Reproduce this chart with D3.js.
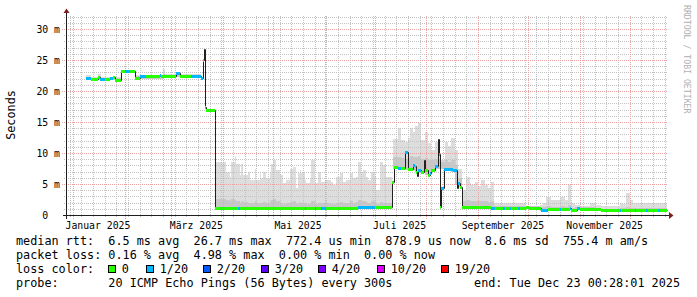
<!DOCTYPE html>
<html>
<head>
<meta charset="utf-8">
<script src="https://cdn.jsdelivr.net/npm/d3@7"></script>
<style>
  html, body { margin: 0; padding: 0; background: #fff; }
  svg { display: block; font-family: "DejaVu Sans Mono", monospace; }
  text { white-space: pre; }
</style>
</head>
<body>
<svg id="chart" width="697" height="297"></svg>
<script>
// ---- data (values in milliseconds) ----
var rangeStart = "2024-12-28T10", rangeEnd = "2025-12-23T10";
var medEnd = "2025-12-23T05";

var monthLabels = ["Januar 2025", "März 2025", "Mai 2025", "Juli 2025", "September 2025", "November 2025"];
var monthLabelDates = ["2025-01-01", "2025-03-01", "2025-05-01", "2025-07-01", "2025-09-01", "2025-11-01"];
var yTicks = [0, 5, 10, 15, 20, 25, 30];
var yTickLabels = ["0  ", "5 m", "10 m", "15 m", "20 m", "25 m", "30 m"];

var lossLabels = ["0", "1/20", "2/20", "3/20", "4/20", "10/20", "19/20"];
var lossColors = ["#26ff00", "#00b8ff", "#0059ff", "#5e00ff", "#7e00ff", "#dd00ff", "#ff0000"];

// median rtt steps; loss = index into lossColors, -1 = no colour band
var medDates = [
  "2025-01-09", "2025-01-12", "2025-01-16", "2025-01-17", "2025-01-20", "2025-01-23", "2025-01-25", "2025-01-26",
  "2025-01-30", "2025-02-01", "2025-02-04", "2025-02-07", "2025-02-10", "2025-02-14", "2025-02-22", "2025-02-23",
  "2025-03-04", "2025-03-06", "2025-03-13", "2025-03-19", "2025-03-20", "2025-03-20T18", "2025-03-21T06", "2025-03-22",
  "2025-03-27", "2025-03-27T12", "2025-04-10", "2025-04-11T06", "2025-05-20", "2025-05-21", "2025-05-26", "2025-05-27",
  "2025-05-30", "2025-06-02", "2025-06-21", "2025-07-01", "2025-07-11T05", "2025-07-12T12", "2025-07-15", "2025-07-17",
  "2025-07-19T12", "2025-07-20T18", "2025-07-24", "2025-07-25", "2025-07-26", "2025-07-26T12", "2025-07-27", "2025-07-28T18",
  "2025-07-30T18", "2025-07-31T12", "2025-08-02", "2025-08-03T10", "2025-08-04", "2025-08-06", "2025-08-07T18", "2025-08-08T12",
  "2025-08-09T10", "2025-08-10", "2025-08-11T10", "2025-08-17T05", "2025-08-19T05", "2025-08-19T19", "2025-08-21T05", "2025-08-22T05",
  "2025-09-08T19", "2025-09-11", "2025-09-16", "2025-09-17", "2025-09-20", "2025-09-21", "2025-09-25", "2025-09-26",
  "2025-09-30", "2025-10-01T18", "2025-10-09", "2025-10-13", "2025-10-20", "2025-10-21", "2025-10-26", "2025-10-27",
  "2025-10-30T12", "2025-11-01", "2025-11-14", "2025-11-25", "2025-11-26", "2025-12-04", "2025-12-05", "2025-12-11",
  "2025-12-12", "2025-12-18", "2025-12-19"
];
var medValues = [
  22.05, 22.0, 22.3, 21.95, 22.0, 22.05, 22.3, 21.85,
  23.2, 23.2, 23.2, 22.1, 22.45, 22.45, 22.55, 22.45,
  22.85, 22.45, 22.45, 22.1, 25.0, 26.7, 17.4, 16.9,
  15.3, 1.05, 1.05, 1.05, 1.05, 1.05, 1.1, 1.05,
  1.15, 1.05, 1.35, 1.25, 5.4, 7.7, 7.6, 7.6,
  10.2, 7.5, 8.0, 7.9, 7.0, 6.3, 7.3, 6.9,
  8.9, 7.3, 6.4, 6.7, 7.3, 7.9, 12.2, 9.9,
  1.3, 4.4, 7.5, 7.2, 4.3, 5.1, 4.5, 1.3,
  1.1, 1.1, 1.1, 1.1, 1.1, 1.1, 1.1, 1.1,
  1.34, 1.08, 0.8, 1.0, 1.0, 1.0, 1.1, 0.8,
  1.2, 1.0, 0.75, 0.75, 0.75, 0.75, 0.75, 0.75,
  0.75, 0.75, 0.75
];
var medLoss = [
  1, 0, 0, 1, 0, 1, 0, 0,
  0, 1, 0, 0, 1, 0, 1, 0,
  1, 0, 1, 1, 0, -1, 0, 0,
  -1, 0, 1, 0, 1, 0, 1, 0,
  1, 0, 1, 0, 0, 0, 1, 0,
  1, 0, 1, 0, 0, -1, 1, 0,
  -1, 0, 0, 1, 0, 1, -1, 1,
  0, 1, 1, 1, -1, 1, 0, 0,
  1, 0, 1, 0, 1, 0, 1, 0,
  0, 0, 1, 0, 1, 0, 1, 0,
  1, 0, 0, 1, 0, 1, 0, 1,
  0, 1, 0
];

// smoke (ping spread): outer top, darker inner band top, bottom; null = no data
var smokeDates = [
  "2025-01-09", "2025-01-12", "2025-01-16", "2025-01-18", "2025-01-30", "2025-02-07", "2025-02-24", "2025-02-25", "2025-03-19",
  "2025-03-27T12", "2025-04-03", "2025-04-05", "2025-04-06", "2025-04-08", "2025-04-09", "2025-04-11", "2025-04-12", "2025-04-13", "2025-04-16",
  "2025-04-17", "2025-04-20", "2025-04-21", "2025-04-23", "2025-04-24", "2025-04-25", "2025-04-27", "2025-04-29", "2025-04-30", "2025-05-01",
  "2025-05-03", "2025-05-05", "2025-05-07", "2025-05-09", "2025-05-11", "2025-05-13", "2025-05-15", "2025-05-16", "2025-05-17", "2025-05-18",
  "2025-05-20", "2025-05-21", "2025-05-23", "2025-05-24", "2025-05-26", "2025-05-28", "2025-05-30", "2025-06-01", "2025-06-03", "2025-06-05",
  "2025-06-06", "2025-06-08", "2025-06-10", "2025-06-12", "2025-06-14", "2025-06-16", "2025-06-18", "2025-06-20", "2025-06-21", "2025-06-23",
  "2025-06-24", "2025-06-26", "2025-06-27", "2025-06-29", "2025-07-01", "2025-07-02", "2025-07-04", "2025-07-06", "2025-07-08", "2025-07-11T05",
  "2025-07-12T05", "2025-07-15", "2025-07-17", "2025-07-19", "2025-07-21", "2025-07-22", "2025-07-24", "2025-07-25", "2025-07-27", "2025-07-29",
  "2025-07-31", "2025-08-02", "2025-08-04", "2025-08-06", "2025-08-08", "2025-08-10", "2025-08-12", "2025-08-14", "2025-08-16", "2025-08-18",
  "2025-08-20", "2025-08-22T05", "2025-08-25", "2025-08-27", "2025-08-28", "2025-08-30", "2025-09-01", "2025-09-03", "2025-09-05", "2025-09-07",
  "2025-09-09", "2025-09-10T12", "2025-09-30", "2025-10-08", "2025-10-10", "2025-10-12", "2025-10-15", "2025-10-20", "2025-10-23", "2025-10-25",
  "2025-10-27", "2025-10-29", "2025-11-01", "2025-11-07", "2025-11-11", "2025-11-14", "2025-11-25", "2025-11-27", "2025-11-29", "2025-12-01",
  "2025-12-03", "2025-12-09", "2025-12-13", "2025-12-17"
];
var smokeTop = [
  22.6, 22.3, 22.8, 22.3, 23.4, 22.6, 23.5, 22.7, null,
  8.6, 7.0, 6.2, 8.6, 9.5, 8.3, 6.5, 8.3, 6.5, 7.0,
  5.6, 7.5, 5.6, 6.7, 5.9, 7.0, 5.9, 6.7, 8.2, 8.9,
  7.3, 6.5, 5.2, 5.6, 7.5, 7.8, 4.3, 6.7, 7.2, 6.8,
  5.6, 5.1, 5.9, 8.9, 5.1, 7.0, 5.4, 5.6, 5.7, 5.4,
  4.8, 6.1, 6.8, 5.4, 5.6, 6.7, 5.9, 6.2, 8.6, 7.0,
  7.3, 6.2, 5.6, 7.0, 6.1, 4.0, 8.6, 8.1, 6.2, null,
  12.2, 14.0, 12.1, 11.8, 12.4, 14.0, 13.4, 14.3, 14.9, 12.1,
  13.4, 11.6, 10.5, 11.8, 10.0, 8.9, 11.8, 11.1, 12.4, 10.5,
  7.5, 4.0, 6.2, 5.1, 4.8, 5.4, 4.6, 5.7, 4.8, 4.3,
  5.4, 1.9, 1.45, 1.6, 1.9, 2.85, 2.4, 2.9, 2.4, 4.8,
  1.9, 1.6, 1.45, 1.9, 1.6, 1.45, 1.9, 1.8, 3.5, 2.4,
  2.0, 1.9, 2.0, 1.9
];
var smokeMid = [
  22.3, 22.15, 22.4, 22.15, 23.3, 22.4, 22.7, 22.55, null,
  2.6, 2.4, 2.3, 2.6, 2.5, 2.2, 2.0, 2.3, 2.1, 2.0,
  1.9, 2.2, 1.9, 2.0, 1.9, 2.1, 2.0, 2.2, 2.4, 2.6,
  2.3, 2.0, 1.8, 1.9, 2.1, 2.2, 1.8, 2.0, 2.1, 2.0,
  1.9, 1.8, 1.9, 2.2, 1.8, 2.0, 1.9, 1.9, 1.9, 1.8,
  1.8, 2.0, 2.1, 1.9, 1.9, 2.2, 2.0, 2.1, 2.5, 2.2,
  2.3, 2.1, 2.0, 2.2, 2.0, 1.8, 2.1, 2.0, 1.9, null,
  9.3, 9.4, 9.2, 9.0, 9.2, 9.5, 9.4, 9.4, 9.5, 9.0,
  9.2, 8.8, 8.8, 9.0, 9.0, 8.5, 8.8, 8.6, 8.8, 8.0,
  6.0, 2.2, 2.4, 2.3, 2.2, 2.3, 2.2, 2.3, 2.2, 2.1,
  2.2, 1.4, 1.4, 1.3, 1.3, 1.4, 1.3, 1.4, 1.3, 1.6,
  1.2, 1.3, 1.25, 1.25, 1.2, 1.0, 1.1, 1.1, 1.3, 1.2,
  1.1, 1.1, 1.1, 1.1
];
var smokeBot = [
  21.9, 21.85, 21.85, 21.8, 23.05, 22.0, 22.3, 22.3, null,
  1.0, 1.0, 1.0, 1.0, 1.0, 1.0, 1.0, 1.0, 1.0, 1.0,
  1.0, 1.0, 1.0, 1.0, 1.0, 1.0, 1.0, 1.0, 1.0, 1.0,
  1.0, 1.0, 1.0, 1.0, 1.0, 1.0, 1.0, 1.0, 1.0, 1.0,
  1.0, 1.0, 1.0, 1.0, 1.0, 1.0, 1.0, 1.0, 1.0, 1.0,
  1.0, 1.0, 1.0, 1.0, 1.0, 1.0, 1.0, 1.0, 1.3, 1.3,
  1.3, 1.3, 1.3, 1.3, 1.2, 1.2, 1.2, 1.2, 1.2, null,
  7.4, 7.4, 7.4, 7.3, 7.3, 7.3, 7.2, 6.9, 6.8, 6.8,
  6.4, 6.3, 7.1, 7.5, 7.5, 7.4, 7.3, 7.2, 7.0, 5.0,
  4.5, 1.2, 1.2, 1.2, 1.2, 1.2, 1.2, 1.2, 1.2, 1.2,
  1.0, 0.9, 1.0, 0.7, 0.7, 0.8, 0.8, 0.8, 0.8, 0.8,
  0.7, 0.8, 0.8, 0.8, 0.8, 0.6, 0.6, 0.6, 0.6, 0.6,
  0.6, 0.6, 0.6, 0.6
];

var legendRtt = "median rtt:  6.5 ms avg  26.7 ms max  772.4 us min  878.9 us now  8.6 ms sd  755.4 m am/s";
var legendLoss = "packet loss: 0.16 % avg  4.98 % max  0.00 % min  0.00 % now";
var legendProbe = "probe:       20 ICMP Echo Pings (56 Bytes) every 300s";
var legendEnd = "end: Tue Dec 23 00:28:01 2025";

// ---- drawing ----
function t(s) { return new Date(s.length === 10 ? s + "T00:00:00Z" : s + ":00:00Z"); }

var svg = d3.select("#chart");
var x = d3.scaleUtc().domain([t(rangeStart), t(rangeEnd)]).range([67, 667]);
var y = d3.scaleLinear().domain([0, 200 / 6.2]).range([215, 15]);
var px = function (d) { return Math.round(x(d)); };
var py = function (v) { return Math.round(y(v)); };

// dotted grid patterns, one pixel on / one off
var defs = svg.append("defs");
function dotPattern(id, w, h, color) {
  defs.append("pattern").attr("id", id).attr("patternUnits", "userSpaceOnUse")
      .attr("width", w).attr("height", h)
    .append("rect").attr("width", 1).attr("height", 1).attr("fill", color);
}
dotPattern("hMin", 2, 1, "#c2c2c2");
dotPattern("vMin", 1, 2, "#c2c2c2");
dotPattern("hMaj", 2, 1, "#eca2a2");
dotPattern("vMaj", 1, 2, "#eca2a2");

// smoke
var smoke = smokeDates.map(function (d, i) {
  return {
    x0: t(d), x1: t(i + 1 < smokeDates.length ? smokeDates[i + 1] : medEnd),
    top: smokeTop[i], mid: smokeMid[i], bot: smokeBot[i]
  };
}).filter(function (d) { return d.top != null; });

var gSmoke = svg.append("g").attr("shape-rendering", "crispEdges");
gSmoke.selectAll("rect.outer").data(smoke).join("rect")
    .attr("class", "outer")
    .attr("x", function (d) { return px(d.x0); })
    .attr("width", function (d) { return px(d.x1) - px(d.x0); })
    .attr("y", function (d) { return py(d.top); })
    .attr("height", function (d) { return py(d.bot) - py(d.top); })
    .attr("fill", "#dddddd");
gSmoke.selectAll("rect.inner").data(smoke).join("rect")
    .attr("class", "inner")
    .attr("x", function (d) { return px(d.x0); })
    .attr("width", function (d) { return px(d.x1) - px(d.x0); })
    .attr("y", function (d) { return py(d.mid); })
    .attr("height", function (d) { return Math.max(0, py(d.bot) - py(d.mid)); })
    .attr("fill", "#c8c8c8");

// grid
var gGrid = svg.append("g").attr("shape-rendering", "crispEdges");
var minorY = d3.range(1, 33).filter(function (v) { return v % 5 !== 0; });
var majorY = yTicks.filter(function (v) { return v > 0; });
var months = d3.utcMonth.range(x.domain()[0], x.domain()[1]);
var weeks = d3.utcMonday.range(x.domain()[0], x.domain()[1]).filter(function (w) {
  return !months.some(function (m) { return Math.abs(px(m) - px(w)) < 1; });
});
gGrid.selectAll("rect.hmin").data(minorY).join("rect")
    .attr("x", 64).attr("width", 604)
    .attr("y", py).attr("height", 1)
    .attr("fill", "url(#hMin)");
gGrid.selectAll("rect.vmin").data(weeks).join("rect")
    .attr("x", px).attr("width", 1)
    .attr("y", 15).attr("height", 202)
    .attr("fill", "url(#vMin)");
gGrid.selectAll("rect.hmaj").data(majorY).join("rect")
    .attr("x", 62).attr("width", 606)
    .attr("y", py).attr("height", 1)
    .attr("fill", "url(#hMaj)");
gGrid.selectAll("rect.vmaj").data(months).join("rect")
    .attr("x", px).attr("width", 1)
    .attr("y", 15).attr("height", 204)
    .attr("fill", "url(#vMaj)");

// median line (dark) with loss coloured bands
var medPts = medDates.map(function (d, i) { return [t(d), medValues[i]]; });
medPts.push([t(medEnd), medValues[medValues.length - 1]]);
svg.append("path")
    .attr("d", d3.line()
        .x(function (d) { return px(d[0]) + 0.5; })
        .y(function (d) { return py(d[1]) + 0.5; })
        .curve(d3.curveStepAfter)(medPts))
    .attr("fill", "none").attr("stroke", "#202020").attr("stroke-width", 1);

var bands = medDates.map(function (d, i) {
  return { x0: t(d), x1: t(i + 1 < medDates.length ? medDates[i + 1] : medEnd), v: medValues[i], loss: medLoss[i] };
}).filter(function (d) { return d.loss >= 0; });
svg.append("g").attr("shape-rendering", "crispEdges")
  .selectAll("rect").data(bands).join("rect")
    .attr("x", function (d) { return px(d.x0); })
    .attr("width", function (d) { return Math.max(1, px(d.x1) - px(d.x0)); })
    .attr("y", function (d) { return py(d.v) - 1; })
    .attr("height", 3)
    .attr("fill", function (d) { return lossColors[d.loss]; });

// axes + arrows
var gAxis = svg.append("g").attr("shape-rendering", "crispEdges").attr("fill", "#1f1f1f");
gAxis.append("rect").attr("x", 63).attr("y", 215).attr("width", 606).attr("height", 1);
gAxis.append("rect").attr("x", 66).attr("y", 13).attr("width", 1).attr("height", 206);
svg.append("path").attr("d", "M669,212L673.5,215.5L669,219Z").attr("fill", "#801f1f");
svg.append("path").attr("d", "M63.5,13L66.5,8.5L69.5,13Z").attr("fill", "#801f1f");

// tick labels
svg.append("g").selectAll("text").data(yTicks).join("text")
    .attr("x", 60).attr("y", function (v) { return y(v) + 3.5; })
    .attr("text-anchor", "end").attr("font-size", 9.8).attr("fill", "#000")
    .text(function (v, i) { return yTickLabels[i]; });
svg.append("g").selectAll("text").data(monthLabelDates).join("text")
    .attr("x", function (d) { return x(d3.utcDay.offset(t(d), 15)); })
    .attr("y", 228.5)
    .attr("text-anchor", "middle").attr("font-size", 9.8).attr("fill", "#000")
    .text(function (d, i) { return monthLabels[i]; });

svg.append("text").attr("transform", "translate(14.5,115) rotate(-90)")
    .attr("text-anchor", "middle").attr("font-size", 11.8).text("Seconds");
svg.append("text").attr("transform", "translate(683.5,5) rotate(90)")
    .attr("font-size", 8.2).attr("fill", "#b0b0b0").text("RRDTOOL / TOBI OETIKER");

// legend
var fs = 11.8;
svg.append("text").attr("x", 16).attr("y", 244.5).attr("font-size", fs).text(legendRtt);
svg.append("text").attr("x", 16).attr("y", 258.5).attr("font-size", fs).text(legendLoss);
svg.append("text").attr("x", 16).attr("y", 272.5).attr("font-size", fs).text("loss color:");
var boxX = [108.5, 146.5, 203.5, 261.5, 318.5, 377.5, 441.5];
var gLeg = svg.append("g");
gLeg.selectAll("rect").data(lossColors).join("rect")
    .attr("x", function (d, i) { return boxX[i]; }).attr("y", 265.5)
    .attr("width", 7).attr("height", 7)
    .attr("fill", function (d) { return d; })
    .attr("stroke", "#000").attr("stroke-width", 1);
gLeg.selectAll("text").data(lossLabels).join("text")
    .attr("x", function (d, i) { return boxX[i] + 13.2; }).attr("y", 272.5)
    .attr("font-size", fs).text(function (d) { return d; });
svg.append("text").attr("x", 16).attr("y", 286.5).attr("font-size", fs).text(legendProbe);
svg.append("text").attr("x", 680).attr("y", 286.5).attr("font-size", fs)
    .attr("text-anchor", "end").text(legendEnd);
</script>
</body>
</html>
